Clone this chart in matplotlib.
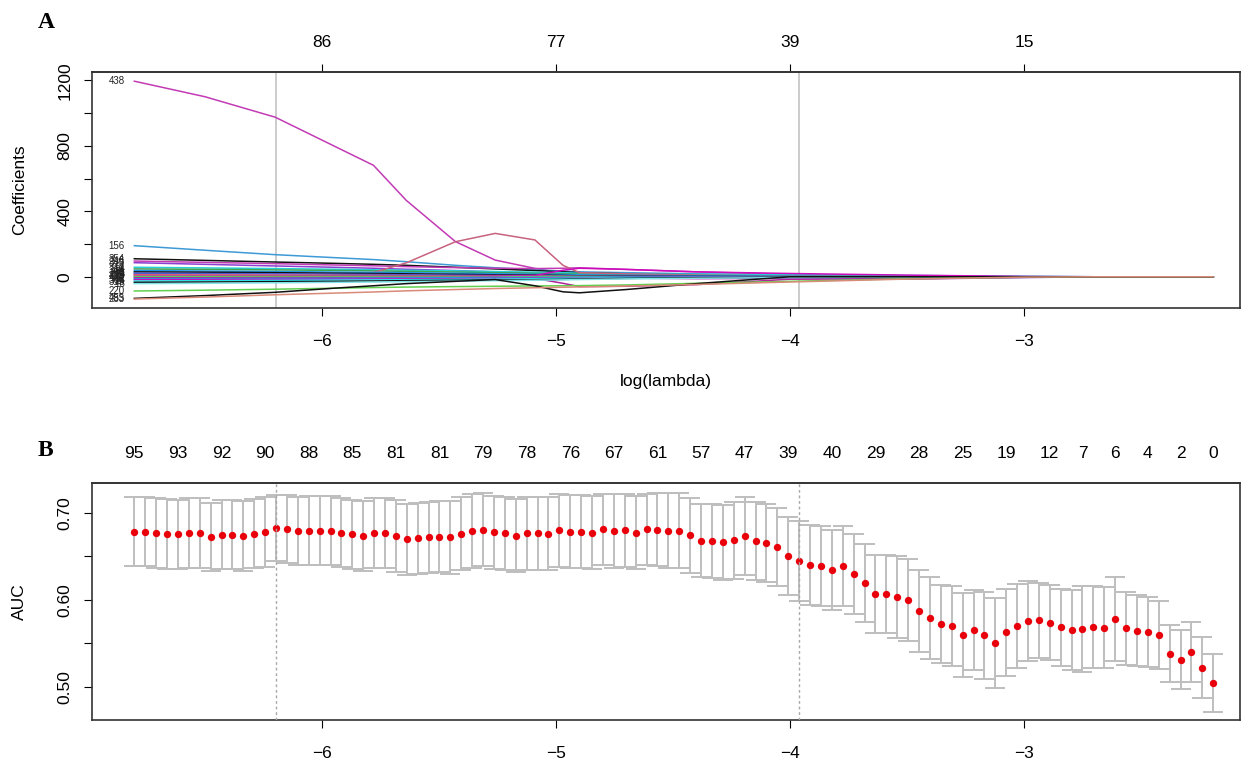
import numpy as np
import matplotlib
matplotlib.use("Agg")
import matplotlib.pyplot as plt

plt.rcParams['font.family'] = ['Liberation Sans', 'DejaVu Sans']

# lambda grid of the cv fit (100 values, evenly spaced on the log scale)
loglam_first = -6.802
loglam_last = -2.191
n_lambda = 100
loglam = np.linspace(loglam_first, loglam_last, n_lambda)

# mean AUC per lambda and its standard error
auc = [0.6785, 0.6785, 0.6767, 0.6759, 0.6755, 0.6770, 0.6770, 0.6728, 0.6751, 0.6751,
       0.6736, 0.6762, 0.6782, 0.6831, 0.6816, 0.6797, 0.6797, 0.6797, 0.6797, 0.6774,
       0.6755, 0.6736, 0.6767, 0.6767, 0.6736, 0.6698, 0.6709, 0.6721, 0.6728, 0.6721,
       0.6759, 0.6793, 0.6805, 0.6778, 0.6767, 0.6739, 0.6767, 0.6767, 0.6762, 0.6801,
       0.6782, 0.6782, 0.6774, 0.6813, 0.6793, 0.6801, 0.6774, 0.6813, 0.6805, 0.6797,
       0.6797, 0.6745, 0.6682, 0.6678, 0.6663, 0.6686, 0.6732, 0.6675, 0.6652, 0.6609,
       0.6502, 0.6448, 0.6399, 0.6387, 0.6341, 0.6387, 0.6302, 0.6199, 0.6072, 0.6071,
       0.6031, 0.6000, 0.5874, 0.5793, 0.5721, 0.5698, 0.5598, 0.5659, 0.5594, 0.5506,
       0.5629, 0.5698, 0.5762, 0.5767, 0.5739, 0.5684, 0.5652, 0.5667, 0.5686, 0.5682,
       0.5782, 0.5675, 0.5647, 0.5632, 0.5594, 0.5383, 0.5314, 0.5402, 0.5222, 0.5046]
auc_se = [0.040, 0.040, 0.040, 0.040, 0.040, 0.040, 0.040, 0.039, 0.040, 0.040,
          0.040, 0.040, 0.040, 0.038, 0.039, 0.039, 0.040, 0.040, 0.040, 0.040,
          0.040, 0.040, 0.040, 0.040, 0.041, 0.041, 0.041, 0.041, 0.041, 0.042,
          0.042, 0.042, 0.042, 0.042, 0.042, 0.042, 0.042, 0.042, 0.042, 0.042,
          0.042, 0.042, 0.042, 0.041, 0.042, 0.042, 0.042, 0.041, 0.042, 0.043,
          0.043, 0.043, 0.042, 0.043, 0.043, 0.044, 0.045, 0.045, 0.045, 0.045,
          0.045, 0.046, 0.046, 0.046, 0.046, 0.046, 0.046, 0.045, 0.045, 0.045,
          0.047, 0.047, 0.047, 0.047, 0.045, 0.046, 0.048, 0.046, 0.050, 0.052,
          0.050, 0.048, 0.046, 0.043, 0.043, 0.044, 0.046, 0.049, 0.047, 0.047,
          0.048, 0.042, 0.041, 0.040, 0.039, 0.033, 0.034, 0.035, 0.035, 0.033]
idx_min = 13
idx_1se = 61

# number of nonzero coefficients shown along the top of the cv plot
nz_idx = [0, 4, 8, 12, 16, 20, 24, 28, 32, 36, 40, 44, 48, 52, 56, 60, 64, 68, 72,
          76, 80, 84, 87, 90, 93, 96, 99]
nz_lab = ['95', '93', '92', '90', '88', '85', '81', '81', '79', '78', '76', '67', '61',
          '57', '47', '39', '40', '29', '28', '25', '19', '12', '7', '6', '4', '2', '0']

# coefficient paths: values at these log(lambda) knots
knots = [-6.802, -6.5, -6.2, -5.95, -5.78, -5.64, -5.43, -5.26, -5.09, -4.97, -4.9,
         -4.7, -4.4, -4.0, -3.5, -3.0, -2.7, -2.191]
paths = {
    '438': [1195, 1100, 975, 800, 681, 467, 215, 102, 51, 22, 0, -8, -12, -10, -4, 0, 0, 0],
    '156': [190, 162, 135, 117, 105, 92, 70, 55, 42, 35, 30, 25, 18, 12, 5, 1, 0, 0],
    '354': [110, 100, 90, 82, 76, 70, 58, 48, 38, 30, 25, 18, 12, 6, 2, 0, 0, 0],
    '246': [96, 88, 80, 72, 67, 62, 56, 52, 50, 52, 55, 45, 30, 15, 5, 0, 0, 0],
    '345': [86, 76, 66, 58, 52, 46, 38, 30, 22, 15, 10, 5, 0, -8, -14, -5, 0, 0],
    '61': [58, 54, 50, 46, 43, 40, 36, 32, 28, 25, 22, 18, 15, 12, 8, 3, 0, 0],
    '112': [48, 45, 42, 39, 36, 33, 29, 25, 21, 18, 16, 12, 8, 4, 1, 0, 0, 0],
    '27': [18, 18, 19, 20, 26, 85, 214, 265, 225, 70, 25, 18, 10, 4, 0, 0, 0, 0],
    '301': [38, 35, 32, 29, 27, 25, 22, 19, 16, 14, 12, 9, 6, 3, 1, 0, 0, 0],
    '88': [30, 28, 25, 22, 20, 18, 15, 12, 10, 8, 6, 4, 2, 0, 0, 0, 0, 0],
    '190': [22, 20, 18, 16, 14, 12, 10, 8, 6, 4, 3, 2, 1, 0, 0, 0, 0, 0],
    '73': [12, 11, 10, 9, 8, 7, 6, 5, 4, 3, 2, 1, 0, 0, 0, 0, 0, 0],
    '405': [5, 5, 5, 5, 5, 5, 5, 5, 8, 40, 52, 45, 30, 20, 10, 2, 0, 0],
    '219': [2, 2, 2, 2, 2, 2, 2, 1, 1, 1, 1, 0, 0, 0, 0, 0, 0, 0],
    '132': [-6, -6, -5, -5, -5, -4, -4, -3, -10, -40, -60, -58, -48, -15, -12, -3, 0, 0],
    '97': [-12, -11, -10, -9, -8, -7, -6, -5, -4, -3, -2, -1, 0, 0, 0, 0, 0, 0],
    '368': [-18, -17, -16, -15, -14, -13, -12, -10, -9, -8, -7, -5, -3, -1, 0, 0, 0, 0],
    '14': [-26, -24, -22, -20, -19, -18, -16, -14, -12, -10, -9, -7, -5, -2, 0, 0, 0, 0],
    '315': [-34, -32, -30, -28, -26, -24, -22, -20, -18, -16, -14, -10, -6, -3, -1, 0, 0, 0],
    '16': [-42, -40, -37, -34, -32, -30, -27, -24, -21, -19, -17, -13, -9, -5, -2, 0, 0, 0],
    '220': [-87, -82, -76, -70, -66, -63, -60, -58, -56, -55, -54, -50, -40, -28, -12, -3, 0, 0],
    '455': [-132, -115, -95, -70, -55, -42, -28, -17, -55, -92, -98, -78, -42, 0, 0, 0, 0, 0],
    '283': [-136, -124, -110, -100, -93, -86, -78, -72, -67, -64, -62, -57, -47, -32, -14, -2, 0, 0],
}
path_colors = {
    '438': '#C23BB5', '156': '#3D9AD6', '354': '#111111', '246': '#C23BB5',
    '345': '#8B3FD0', '61': '#28CFD6', '112': '#3FA34F', '27': '#C8627E',
    '301': '#2297E6', '88': '#111111', '190': '#4A5BD0', '73': '#DF536B',
    '405': '#CD0BBC', '219': '#61D04F', '132': '#B0239A', '97': '#2297E6',
    '368': '#CD0BBC', '14': '#28E2E5', '315': '#111111', '16': '#7FE3E8',
    '220': '#61D04F', '455': '#111111', '283': '#D98A78',
}

fig = plt.figure(figsize=(12.55, 7.63), dpi=100)
axA = fig.add_axes([0.0733, 0.5963, 0.9147, 0.3093])
axB = fig.add_axes([0.0733, 0.0564, 0.9147, 0.3106])

xlim = (-6.983, -2.077)
fs = 12.5

# ---- A: coefficient paths
for name, vals in paths.items():
    axA.plot(knots, vals, color=path_colors[name], lw=1.1)
    axA.text(knots[0] - 0.04, vals[0], name, fontsize=7, ha='right', va='center', color='#222222')
for i in (idx_min, idx_1se):
    axA.axvline(loglam[i], color='#C8C8C8', lw=1.3, zorder=0)
axA.set_xlim(xlim)
axA.set_ylim(-191, 1251)
axA.set_xticks([-6, -5, -4, -3])
axA.set_xticklabels(['\u22126', '\u22125', '\u22124', '\u22123'])
axA.set_yticks([0, 200, 400, 600, 800, 1000, 1200])
axA.set_yticklabels(['0', '', '400', '', '800', '', '1200'], rotation=90, va='center')
axA.tick_params(axis='x', labelsize=fs, length=6, pad=13, direction='out')
axA.tick_params(axis='y', labelsize=fs, length=6, pad=8, direction='out')
axA.set_ylabel('Coefficients', fontsize=fs, labelpad=22)
axA.set_xlabel('log(lambda)', fontsize=fs, labelpad=18)
topA = axA.secondary_xaxis('top')
topA.set_xticks([-6, -5, -4, -3])
topA.set_xticklabels(['86', '77', '39', '15'])
topA.tick_params(labelsize=fs, length=6, pad=9.5)
for s in list(axA.spines.values()) + list(topA.spines.values()):
    s.set_linewidth(1.2)
    s.set_color('#333333')

# ---- B: cross-validated AUC
axB.errorbar(loglam, auc, yerr=auc_se, fmt='none', ecolor='#BEBEBE', elinewidth=1.4,
             capsize=7.5, capthick=1.4, zorder=1)
axB.plot(loglam, auc, 'o', color='#E8000B', ms=5.3, mec='none', zorder=2)
for i in (idx_min, idx_1se):
    axB.axvline(loglam[i], color='#A8A8A8', lw=1.0, ls=(0, (2, 2)), zorder=3)
axB.set_xlim(xlim)
axB.set_ylim(0.462, 0.7345)
axB.set_xticks([-6, -5, -4, -3])
axB.set_xticklabels(['\u22126', '\u22125', '\u22124', '\u22123'])
axB.set_yticks([0.50, 0.55, 0.60, 0.65, 0.70])
axB.set_yticklabels(['0.50', '', '0.60', '', '0.70'], rotation=90, va='center')
axB.tick_params(axis='x', labelsize=fs, length=6, pad=13, direction='out')
axB.tick_params(axis='y', labelsize=fs, length=6, pad=8, direction='out')
axB.set_ylabel('AUC', fontsize=fs, labelpad=22)
topB = axB.secondary_xaxis('top')
topB.set_xticks([loglam[i] for i in nz_idx])
topB.set_xticklabels(nz_lab)
topB.tick_params(labelsize=fs, length=0, pad=16)
for s in list(axB.spines.values()) + list(topB.spines.values()):
    s.set_linewidth(1.2)
    s.set_color('#333333')

fig.text(0.030, 0.970, 'A', fontsize=17, fontweight='bold', family='Liberation Serif', va='center')
fig.text(0.030, 0.410, 'B', fontsize=17, fontweight='bold', family='Liberation Serif', va='center')

fig.savefig('out.png', dpi=100)
